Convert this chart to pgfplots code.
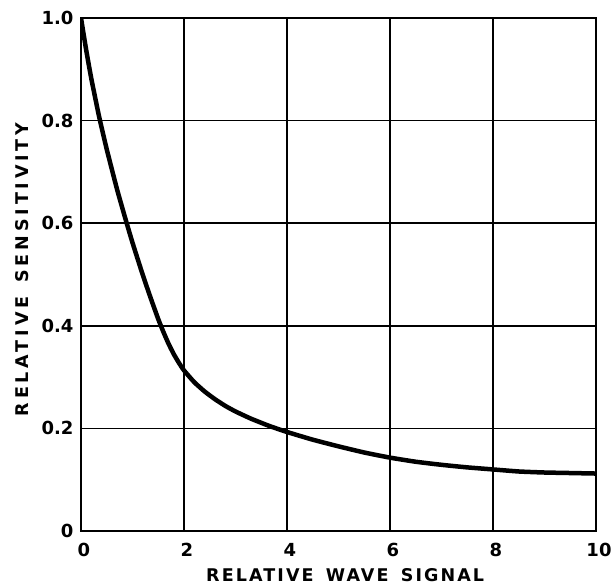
\documentclass[border=0pt]{standalone}
\usepackage{pgfplots}
\pgfplotsset{compat=1.18}
\usepackage{fontspec}
\setmainfont{DejaVu Sans}
\newfontfamily\lab{DejaVu Sans}[LetterSpace=12]
\newfontfamily\laby{DejaVu Sans}[LetterSpace=22]
\begin{document}
\begin{tikzpicture}
\useasboundingbox (-81pt,-57pt) rectangle (530pt,531pt);
\begin{axis}[
  at={(0,0)}, anchor=south west,
  scale only axis,
  width=515pt, height=513pt,
  xmin=0, xmax=10, ymin=0, ymax=1.0,
  xtick={0,2,4,6,8,10},
  ytick={0,0.2,0.4,0.6,0.8,1.0},
  yticklabels={0,0.2,0.4,0.6,0.8,1.0},
  xticklabels={0,2,4,6,8,10},
  grid=major,
  major grid style={black, line width=1.6pt},
  axis line style={black, line width=2pt},
  major tick length=0pt,
  tick label style={font=\fontsize{18}{18}\selectfont\bfseries},
  xticklabel style={anchor=center, yshift=-19pt, xshift=3pt},
  yticklabel style={anchor=east, xshift=-4pt},
  xlabel={\lab\fontsize{17.5}{18}\selectfont\bfseries RELATIVE\hspace{0.7em}WAVE\hspace{0.7em}SIGNAL},
  ylabel={\laby\fontsize{17.5}{18}\selectfont\bfseries RELATIVE\hspace{0.8em}SENSITIVITY},
  xlabel style={at={(axis description cs:0.513,0)}, anchor=center, yshift=-44pt},
  ylabel style={at={(axis description cs:0,0.51)}, anchor=center, yshift=59pt},
]
\addplot[black, line width=4.5pt, smooth, tension=0.3, line join=round] coordinates {
(0,1.0) (0.1,0.938) (0.2,0.882) (0.35,0.8085) (0.5,0.744) (0.7,0.666) (0.87,0.606)
(1.0,0.562) (1.2,0.499) (1.35,0.455) (1.5,0.413) (1.6,0.388) (1.7,0.365) (1.8,0.345)
(1.9,0.328) (2.0,0.313) (2.2,0.29) (2.4,0.272) (2.6,0.257) (2.8,0.244) (3.0,0.233)
(3.3,0.219) (3.65,0.205) (4.0,0.193) (4.5,0.178) (5.0,0.165) (5.5,0.153) (6.0,0.143)
(6.5,0.135) (7.0,0.129) (7.5,0.124) (8.0,0.12) (8.5,0.116) (9.0,0.114) (9.5,0.113) (10,0.112)
};
\end{axis}
\end{tikzpicture}
\end{document}
